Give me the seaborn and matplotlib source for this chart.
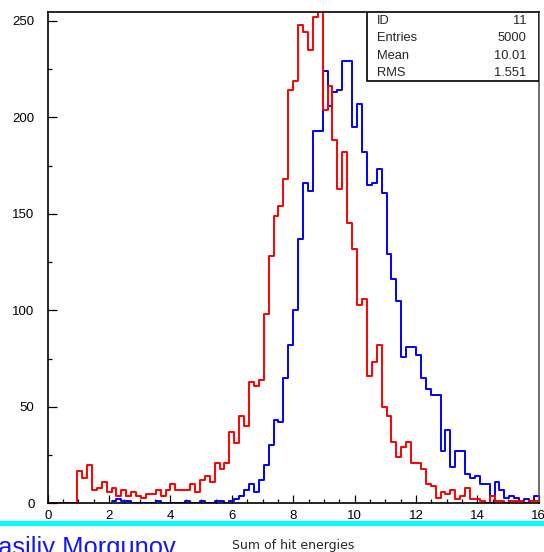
import numpy as np
import pandas as pd
import matplotlib
matplotlib.use("Agg")
import matplotlib.pyplot as plt
from matplotlib.patches import Rectangle
from matplotlib.ticker import MultipleLocator
import seaborn as sns

# 100 bins of width 0.16 covering [0, 16]
bin_edges = np.linspace(0.0, 16.0, 101)

# counts per bin, red histogram
red_counts = [
    0, 0, 0, 0, 0, 0,
    17, 13, 20, 7, 8, 11, 6, 8, 4, 7, 4, 6, 4, 3, 5, 5, 7, 4, 7, 10, 7, 7, 7, 10,
    6, 12, 14, 11, 21, 18, 21, 37, 31,
    45, 40, 63, 61, 64, 98, 128, 149, 154, 168, 214, 219, 248, 244, 235, 252, 262,
    204, 216, 188, 163, 182, 145, 132, 103, 106, 66, 73, 82, 50, 45,
    32, 24, 29, 32, 21, 21, 18, 10, 9, 3, 6, 5, 7, 2, 4, 8, 2, 2, 1, 0,
    4, 1, 1, 0, 1, 1, 1, 0, 1, 1,
]

# counts per bin, blue histogram (ID 11)
blue_counts = [
    0, 0, 0, 0, 0, 0, 0, 0, 0, 0, 0, 0, 0,
    1, 2, 1, 1, 0, 0, 0, 0, 0, 1, 0, 0, 0, 0, 0, 1, 0, 0, 1, 0, 0,
    1, 1, 0, 1, 2,
    4, 7, 10, 6, 12, 20, 30, 43, 42,
    65, 82, 100, 137, 166, 162, 193, 193,
    224, 206, 213, 214, 229, 229, 195, 207,
    182, 165, 166, 173, 161, 129, 116, 105,
    76, 81, 81, 77, 65, 59, 56, 56,
    27, 38, 19, 27, 27, 15, 13, 14, 10, 10,
    0, 11, 7, 3, 4, 3, 1, 2, 1, 4,
]

stat_labels = ["ID", "Entries", "Mean", "RMS"]
stat_values = ["11", "5000", "10.01", "1.551"]

x_ticks = list(range(0, 17, 2))
y_ticks = list(range(0, 251, 50))

x_title = "Sum of hit energies"
author = "Vasiliy Morgunov"

sns.set_style("ticks")
plt.rcParams["font.family"] = ["Liberation Sans", "DejaVu Sans"]

fig = plt.figure(figsize=(5.44, 5.52), dpi=100)
ax = fig.add_axes([0.0877, 0.0882, 0.9026, 0.8892])

centers = (bin_edges[:-1] + bin_edges[1:]) / 2
red_df = pd.DataFrame({"energy": centers, "count": red_counts})
blue_df = pd.DataFrame({"energy": centers, "count": blue_counts})

# blue outline starts at its first filled bin
b0 = int(np.flatnonzero(blue_df["count"].to_numpy())[0])
sns.histplot(data=blue_df.iloc[b0:], x="energy", weights="count",
             bins=bin_edges[b0:].tolist(), element="step", fill=False,
             color="#0000ff", linewidth=1.4, ax=ax)
sns.histplot(data=red_df, x="energy", weights="count",
             bins=bin_edges.tolist(), element="step", fill=False,
             color="#ff0000", linewidth=1.4, ax=ax)

ax.set_xlim(0, 16)
ax.set_ylim(0, 254.3)
ax.set_xlabel("")
ax.set_ylabel("")
ax.set_xticks(x_ticks)
ax.set_yticks(y_ticks)
ax.xaxis.set_minor_locator(MultipleLocator(0.5))
ax.yaxis.set_minor_locator(MultipleLocator(25))
ax.tick_params(which="both", direction="in", top=False, right=False,
               labelsize=9.5, colors="black", width=0.9)
ax.tick_params(axis="y", which="major", length=6.5, pad=9.5)
ax.tick_params(axis="x", which="major", length=6.0, pad=4.5)
ax.tick_params(which="minor", length=3.2)
for side in ["left", "bottom", "top"]:
    ax.spines[side].set_visible(True)
    ax.spines[side].set_color("black")
    ax.spines[side].set_linewidth(1.2)
ax.spines["right"].set_visible(True)
ax.spines["right"].set_color("#555555")
ax.spines["right"].set_linewidth(1.2)

# statistics box in the upper right corner
box = Rectangle((0.651, 0.8605), 0.349, 0.1395, transform=ax.transAxes,
                facecolor="white", edgecolor="black", linewidth=1.2, zorder=5)
ax.add_patch(box)
rows_y = [0.9827, 0.9474, 0.9119, 0.8772]
for lab, val, yy in zip(stat_labels, stat_values, rows_y):
    ax.text(0.6707, yy, lab, transform=ax.transAxes, ha="left", va="center",
            fontsize=9.3, zorder=6)
    ax.text(0.9749, yy, val, transform=ax.transAxes, ha="right", va="center",
            fontsize=9.3, zorder=6)

# cyan separator band under the plot
fig.patches.append(Rectangle((0, 0.0476), 1, 0.0086, transform=fig.transFigure,
                             facecolor="#00ffff", edgecolor="none"))

fig.text(232 / 544, 1 - 549 / 552, x_title, ha="left", va="baseline",
         fontsize=9, family="DejaVu Sans")
fig.text(-17 / 544, 1 - 555 / 552, author, ha="left", va="baseline",
         fontsize=18.4, color="#1414ff")

fig.savefig("out.png", dpi=100)
